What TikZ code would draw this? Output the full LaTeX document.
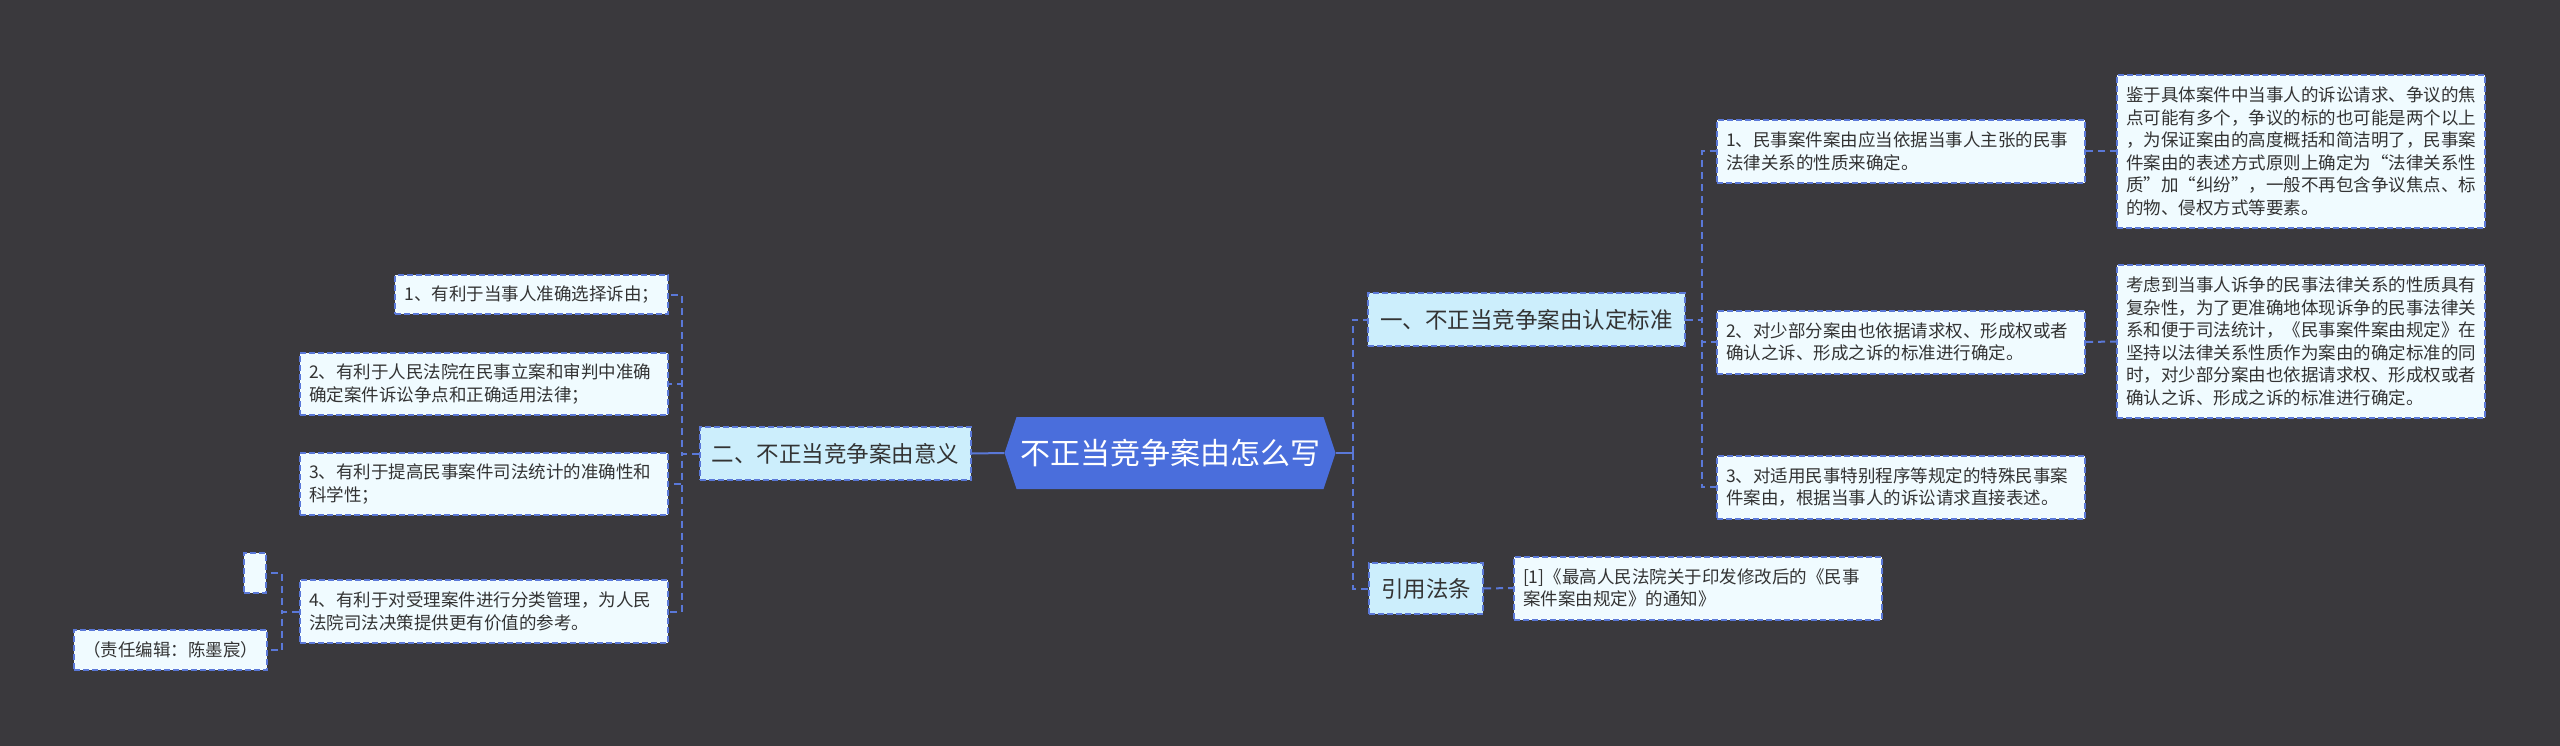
\documentclass[tikz,border=0pt]{standalone}
\usepackage{fontspec}
\setmainfont{Noto Sans CJK SC}
\definecolor{bgdark}{HTML}{3A393D}
\definecolor{rootblue}{HTML}{4A6EDC}
\definecolor{linkblue}{HTML}{5A78D8}
\definecolor{topicfill}{HTML}{CCEEFC}
\definecolor{leaffill}{HTML}{F0FBFF}
\definecolor{inkgray}{HTML}{333333}
\begin{document}
\begin{tikzpicture}[x=1pt,y=-1pt,
    rootnode/.style={minimum width=331pt,minimum height=72pt,inner sep=0pt,text=white,
        font=\fontsize{30}{34}\selectfont,
        path picture={\fill[rootblue] (path picture bounding box.west)--([xshift=12pt]path picture bounding box.north west)
            --([xshift=-12pt]path picture bounding box.north east)--(path picture bounding box.east)
            --([xshift=-12pt]path picture bounding box.south east)--([xshift=12pt]path picture bounding box.south west)--cycle;}},
    topic/.style={fill=topicfill,draw=linkblue,dash pattern=on 6pt off 3pt,line width=2pt,text=inkgray,inner xsep=12pt,
        minimum height=53pt,font=\fontsize{22.5}{26}\selectfont},
    leaf/.style={fill=leaffill,draw=linkblue,dash pattern=on 6pt off 3pt,line width=2pt,text=inkgray,inner xsep=9pt,inner ysep=4pt,
        align=left,font=\fontsize{17.5}{22.5}\selectfont},
    wide/.style={text width=350pt},
    link/.style={draw=linkblue,dash pattern=on 7pt off 5pt,line width=2pt},
    rootlink/.style={draw=linkblue,line width=2pt}]
    \fill[bgdark] (0,0) rectangle (2560,746);
    \node[rootnode] (root) at (1170,453) {不正当竞争案由怎么写};
    \node[topic,anchor=west] (yi) at (1367,319.5) {一、不正当竞争案由认定标准};
    \node[topic,anchor=west,minimum height=51pt] (cite) at (1368,588.5) {引用法条};
    \node[topic,anchor=east] (er) at (972,453.5) {二、不正当竞争案由意义};
    \node[leaf,wide,anchor=west,minimum height=63pt] (a1) at (1716,151.5) {1、民事案件案由应当依据当事人主张的民事\\法律关系的性质来确定。};
    \node[leaf,wide,anchor=west,minimum height=63pt] (a2) at (1716,342) {2、对少部分案由也依据请求权、形成权或者\\确认之诉、形成之诉的标准进行确定。};
    \node[leaf,wide,anchor=west,minimum height=63pt] (a3) at (1716,487) {3、对适用民事特别程序等规定的特殊民事案\\件案由，根据当事人的诉讼请求直接表述。};
    \node[leaf,wide,anchor=west,minimum height=153pt] (n1) at (2116,151.5) {鉴于具体案件中当事人的诉讼请求、争议的焦\\点可能有多个，争议的标的也可能是两个以上\\，为保证案由的高度概括和简洁明了，民事案\\件案由的表述方式原则上确定为“法律关系性\\质”加“纠纷”，一般不再包含争议焦点、标\\的物、侵权方式等要素。};
    \node[leaf,wide,anchor=west,minimum height=153pt] (n2) at (2116,341.5) {考虑到当事人诉争的民事法律关系的性质具有\\复杂性，为了更准确地体现诉争的民事法律关\\系和便于司法统计，《民事案件案由规定》在\\坚持以法律关系性质作为案由的确定标准的同\\时，对少部分案由也依据请求权、形成权或者\\确认之诉、形成之诉的标准进行确定。};
    \node[leaf,wide,anchor=west,minimum height=63pt] (ref) at (1513,588) {[1]《最高人民法院关于印发修改后的《民事\\案件案由规定》的通知》};
    \node[leaf,anchor=east,minimum height=39pt] (b1) at (669,294.5) {1、有利于当事人准确选择诉由；};
    \node[leaf,wide,anchor=east,minimum height=62pt] (b2) at (669,384) {2、有利于人民法院在民事立案和审判中准确\\确定案件诉讼争点和正确适用法律；};
    \node[leaf,wide,anchor=east,minimum height=62pt] (b3) at (669,484) {3、有利于提高民事案件司法统计的准确性和\\科学性；};
    \node[leaf,wide,anchor=east,minimum height=63pt] (b4) at (669,611.5) {4、有利于对受理案件进行分类管理，为人民\\法院司法决策提供更有价值的参考。};
    \node[leaf,anchor=east,minimum width=22pt,minimum height=40pt,inner sep=0pt] (blank) at (267,573) {};
    \node[leaf,anchor=east,minimum height=40pt] (editor) at (268,650) {（责任编辑：陈墨宸）};
    \draw[rootlink] (root.east) -- ++(17,0);
    \draw[link] ([xshift=17pt]root.east) |- (yi.west);
    \draw[link] ([xshift=17pt]root.east) |- (cite.west);
    \draw[rootlink] (root.west) -- (er.east);
    \foreach \k in {a1,a2,a3} \draw[link] (yi.east) -- ++(16,0) |- (\k.west);
    \draw[link] (a1.east) -- (n1.west);
    \draw[link] (a2.east) -- (n2.west);
    \draw[link] (cite.east) -- (ref.west);
    \foreach \k in {b1,b2,b3,b4} \draw[link] (er.west) -- ++(-17,0) |- (\k.east);
    \foreach \k in {blank,editor} \draw[link] (b4.west) -- ++(-17,0) |- (\k.east);
\end{tikzpicture}
\end{document}
